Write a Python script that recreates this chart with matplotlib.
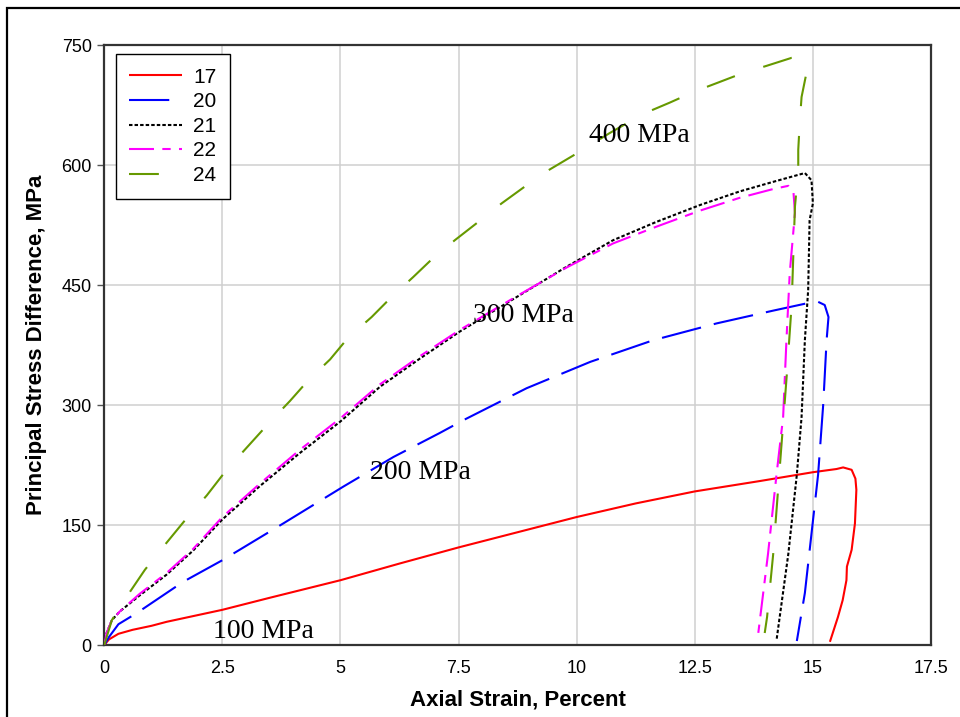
# Import matplotlib stuff
import matplotlib
matplotlib.use("Agg")
import matplotlib.pyplot as plt
from matplotlib.patches import Rectangle

# Test numbers and the confining pressure labels
test_ids = ["17", "20", "21", "22", "24"]
pressure_labels = ["100 MPa", "200 MPa", "300 MPa", "400 MPa"]
pressure_label_pos = [(3.36, 17.5), (6.7, 216), (8.88, 412), (11.32, 637)]

# Test 17 (100 MPa): axial strain [%] and principal stress difference [MPa]
strain_17 = [0, 0.1, 0.3, 0.6, 1.0, 1.32, 2.5, 3.5, 5.0, 6.26, 7.5, 8.75, 10.0, 11.25, 12.5,
             13.88, 15.0, 15.5, 15.64, 15.82, 15.9, 15.92, 15.89, 15.82, 15.72, 15.71, 15.63,
             15.53, 15.36]
stress_17 = [0, 7, 14, 19, 24, 29, 44, 59, 81, 102, 122, 141, 160, 177, 192,
             205, 216, 220, 222, 219, 208, 194, 152, 119, 98, 81, 56,
             35, 4]

# Test 20 (200 MPa)
strain_20 = [0, 0.1, 0.3, 0.69, 1.67, 2.5, 3.79, 5.06, 6.12, 7.1, 7.6, 8.94, 10.29, 11.62,
             12.96, 14.16, 14.94, 15.11, 15.25, 15.33, 15.29, 15.22, 15.11, 14.97, 14.83, 14.66]
stress_20 = [0, 10, 26, 40, 79, 106, 152, 198, 235, 265, 281, 321, 354, 381,
             402, 418, 428, 429, 425, 410, 381, 302, 213, 139, 65, 5]

# Test 21 (300 MPa)
strain_21 = [0, 0.05, 0.16, 0.33, 0.75, 1.32, 1.88, 2.5, 3.3, 4.14, 4.99, 5.84, 6.68, 7.53,
             8.73, 9.79, 10.77, 11.69, 12.61, 13.45, 14.16, 14.83, 14.97, 15.0, 14.93, 14.9,
             14.83, 14.76, 14.66, 14.48, 14.23]
stress_21 = [0, 15, 31, 42, 62, 88, 118, 157, 199, 240, 279, 323, 358, 392,
             435, 473, 506, 529, 550, 567, 579, 590, 581, 552, 531, 444,
             381, 285, 213, 114, 6]

# Test 22 (300 MPa)
strain_22 = [0, 0.05, 0.16, 0.33, 0.75, 1.32, 1.88, 2.5, 3.3, 4.14, 4.99, 5.84, 6.68, 7.53,
             8.73, 9.79, 10.77, 11.69, 12.61, 13.45, 14.16, 14.48, 14.59, 14.62, 14.51, 14.44,
             14.37, 14.23, 14.05, 13.84]
stress_22 = [0, 15, 31, 42, 64, 90, 120, 160, 202, 244, 283, 326, 361, 394,
             436, 472, 502, 523, 543, 559, 570, 574, 565, 540, 465, 381,
             285, 213, 114, 13]

# Test 24 (400 MPa)
strain_24 = [0, 0.16, 0.47, 0.86, 1.28, 1.71, 2.17, 2.59, 3.05, 3.51, 3.93, 4.32, 4.78, 5.16,
             5.66, 6.08, 6.54, 6.93, 7.42, 7.92, 8.41, 8.9, 9.36, 9.93, 10.7, 11.41, 11.97,
             12.5, 12.99, 13.52, 14.02, 14.55, 14.72, 14.83, 14.87, 14.76, 14.72, 14.69, 14.69,
             14.62, 14.55, 14.45, 14.38, 14.3, 14.16, 14.03, 13.98]
stress_24 = [0, 31, 60, 94, 125, 156, 187, 219, 249, 279, 305, 331, 357, 384,
             410, 435, 460, 482, 506, 529, 552, 573, 592, 612, 640, 664, 678,
             692, 703, 715, 724, 734, 735, 727, 717, 685, 652, 619, 593,
             548, 425, 340, 285, 223, 114, 35, 15]

# Axis ticks
x_ticks = [0, 2.5, 5, 7.5, 10, 12.5, 15, 17.5]
x_tick_labels = ["0", "2.5", "5", "7.5", "10", "12.5", "15", "17.5"]
y_ticks = [0, 150, 300, 450, 600, 750]

# Line styles: colour and dash pattern in points
styles = {
    "17": ("#ff0000", (0, ())),
    "20": ("#0000ff", (0, (29, 9.5))),
    "21": ("#000000", (0, (2.5, 1.5))),
    "22": ("#ff00ff", (0, (18, 6, 6, 6))),
    "24": ("#669900", (0, (21.5, 21.5))),
}


def plot_tests(output: str) -> None:
    # Dash patterns given in points, not scaled with line width
    plt.rcParams["lines.scale_dashes"] = False
    plt.rcParams["font.family"] = ["Liberation Sans", "DejaVu Sans"]

    # Set the size
    fig = plt.figure(figsize=(9.6, 7.17), dpi=100)
    ax = fig.add_axes([0.1086, 0.1004, 0.8612, 0.8368])

    # Draw every test
    curves = [(strain_17, stress_17), (strain_20, stress_20), (strain_21, stress_21),
              (strain_22, stress_22), (strain_24, stress_24)]
    for test, (strain, stress) in zip(test_ids, curves):
        color, dashes = styles[test]
        ax.plot(strain, stress, color=color, linestyle=dashes, linewidth=1.5, label=test, zorder=3)

    # Confining pressure labels
    for text, (px, py) in zip(pressure_labels, pressure_label_pos):
        ax.text(px, py, text, fontsize=20, family=["Liberation Serif", "DejaVu Serif"],
                ha="center", va="center", zorder=4)

    # Limits and ticks
    ax.set_xlim(0, 17.5)
    ax.set_ylim(0, 750)
    ax.set_xticks(x_ticks)
    ax.set_xticklabels(x_tick_labels)
    ax.set_yticks(y_ticks)
    ax.tick_params(axis="x", length=0, pad=11, labelsize=13)
    ax.tick_params(axis="y", length=5, width=1, color="#555555", pad=4, labelsize=13)

    # Labels
    ax.set_xlabel("Axial Strain, Percent", fontsize=16, fontweight="bold", labelpad=9)
    ax.set_ylabel("Principal Stress Difference, MPa", fontsize=16, fontweight="bold", labelpad=10)

    # Grid
    ax.grid(True, color="#cfcfcf", linewidth=1.1)
    ax.set_axisbelow(True)
    for spine in ax.spines.values():
        spine.set_linewidth(1.6)
        spine.set_color("#333333")

    # Legend
    leg = ax.legend(loc="upper left", bbox_to_anchor=(0.014, 0.985), fontsize=15,
                    handlelength=2.55, handletextpad=0.5, labelspacing=0.27,
                    borderpad=0.65, borderaxespad=0, fancybox=False, framealpha=1)
    leg.get_frame().set_edgecolor("black")
    leg.get_frame().set_linewidth(1.0)

    # Outer frame around the whole chart
    fig.patches.append(Rectangle((6.5 / 960, -0.2), 1.2, 1.2 - 8 / 717,
                                 transform=fig.transFigure, fill=False,
                                 edgecolor="black", linewidth=1.6, clip_on=False))

    # Save fig
    plt.savefig(output, dpi=100)

    # Clear
    plt.close(fig)


if __name__ == '__main__':
    plot_tests("out.png")
